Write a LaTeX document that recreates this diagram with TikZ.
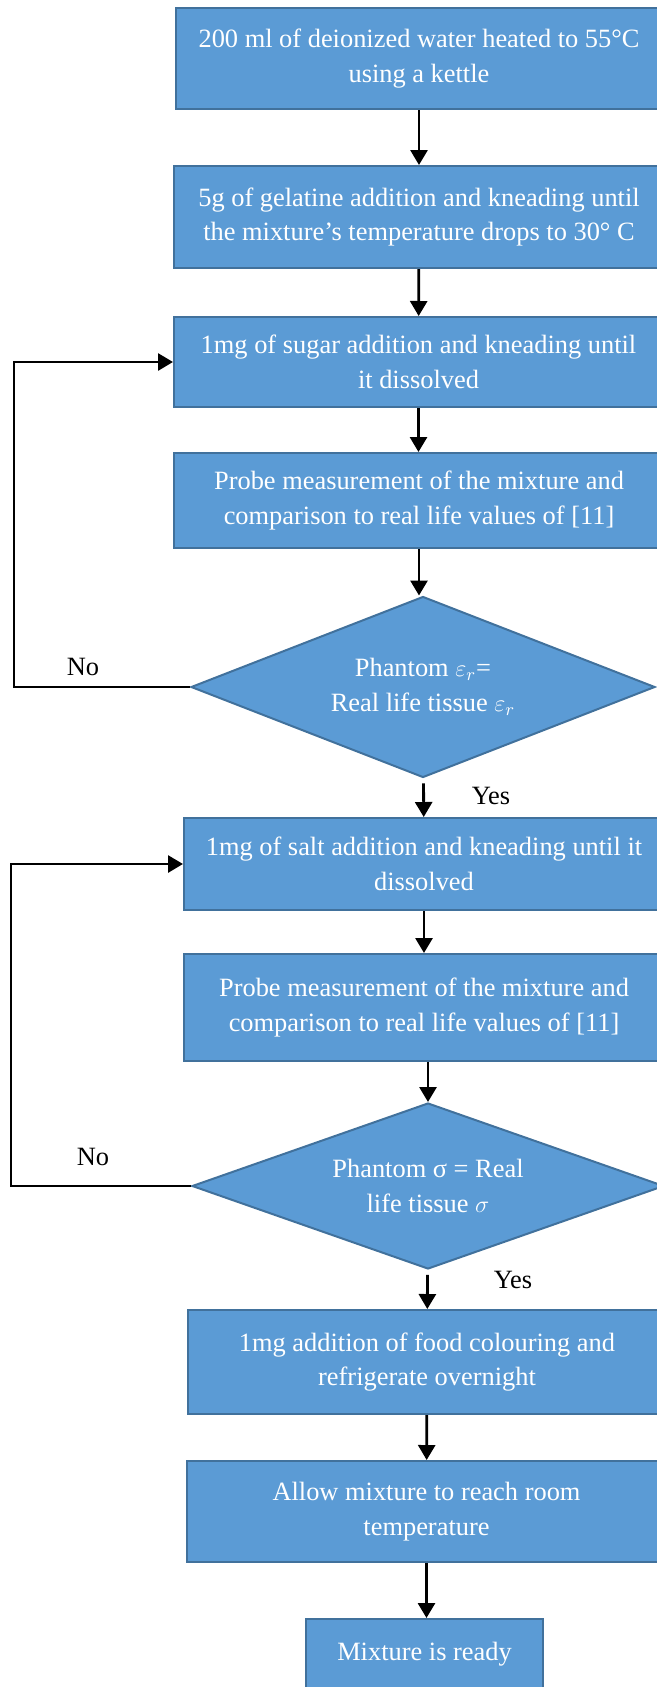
\documentclass[tikz,border=0pt]{standalone}
\usepackage{fontspec}
\setmainfont{Liberation Serif}
\usetikzlibrary{shapes.geometric,arrows.meta}
\definecolor{boxblue}{HTML}{5B9BD5}
\definecolor{boxedge}{HTML}{41719C}
\begin{document}
\begin{tikzpicture}[x=0.5pt,y=-0.5pt,
	font=\fontsize{13.2}{17.4}\selectfont,
	stepbox/.style={draw=boxedge,line width=1pt,fill=boxblue,text=white,align=center,inner sep=0pt},
	decision/.style={diamond,aspect=2.6,draw=boxedge,line width=1pt,fill=boxblue,text=white,align=center,inner sep=0pt},
	flow/.style={-{Triangle[width=8.5pt,length=7.5pt]},line width=1.4pt}]

	% page
	\useasboundingbox (0,0) rectangle (657,1687);
	\clip (0,0) rectangle (657,1687);

	% preparation
	\node[stepbox,minimum width=243pt,minimum height=50.5pt] (water) at (419,58.5) {200 ml of deionized water heated to 55°C\\using a kettle};
	\node[stepbox,minimum width=245pt,minimum height=51pt] (gelatine) at (419,217) {5g of gelatine addition and kneading until\\the mixture’s temperature drops to 30° C};

	% sugar loop
	\node[stepbox,minimum width=244.5pt,minimum height=45pt] (sugar) at (418.5,362) {1mg of sugar addition and kneading until\\it dissolved};
	\node[stepbox,minimum width=245pt,minimum height=47.5pt] (probeA) at (419,500.5) {Probe measurement of the mixture and\\comparison to real life values of [11]};
	\node[decision,minimum width=232pt,minimum height=90.5pt] (permit) at (423,687) {Phantom $\varepsilon_r$=\\Real life tissue $\varepsilon_r$};

	% salt loop
	\node[stepbox,minimum width=240pt,minimum height=46pt] (salt) at (424,864) {1mg of salt addition and kneading until it\\dissolved};
	\node[stepbox,minimum width=240pt,minimum height=53.5pt] (probeB) at (424,1007.5) {Probe measurement of the mixture and\\comparison to real life values of [11]};
	\node[decision,minimum width=236pt,minimum height=83pt] (conduct) at (428,1186) {Phantom σ = Real\\life tissue $\sigma$};

	% finishing
	\node[stepbox,minimum width=239pt,minimum height=52pt] (colour) at (427,1362) {1mg addition of food colouring and\\refrigerate overnight};
	\node[stepbox,minimum width=239.5pt,minimum height=50.5pt] (settle) at (426.5,1511.5) {Allow mixture to reach room\\temperature};
	\node[stepbox,minimum width=118.5pt,minimum height=35.5pt] (ready) at (424.5,1654.5) {Mixture is ready};

	% arrows
	\draw[flow] (water) -- (gelatine);
	\draw[flow] (gelatine) -- (sugar);
	\draw[flow] (sugar.south) -- (sugar.south |- probeA.north);
	\draw[flow] (probeA.south) -- (probeA.south |- permit.north);
	\draw[flow,shorten <=2.5pt] (permit) -- (salt);
	\draw[flow] (salt) -- (probeB);
	\draw[flow] (probeB.south -| conduct.north) -- (conduct.north);
	\draw[flow,shorten <=2.5pt] (conduct) -- (colour);
	\draw[flow] (colour) -- (settle);
	\draw[flow] (settle.south) -- (settle.south |- ready.north);

	% feedback
	\draw[flow] (permit.west) -- ++(-176,0) |- (sugar.west);
	\draw[flow] (conduct.west) -- ++(-180,0) |- (salt.west);

	% labels
	\node (noA) at (83,667) {No};
	\node (yesA) at (491,796) {Yes};
	\node (noB) at (93,1157) {No};
	\node (yesB) at (513,1280) {Yes};

\end{tikzpicture}
\end{document}
